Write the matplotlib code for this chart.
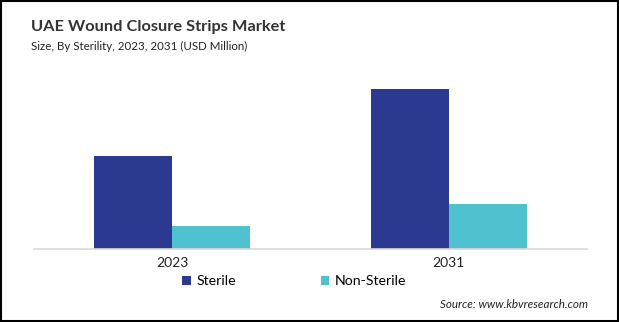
import matplotlib
matplotlib.use('Agg')
import matplotlib.pyplot as plt
import numpy as np
from matplotlib.patches import Rectangle

plt.rcParams['font.family'] = ['Lato', 'DejaVu Sans']

# data (USD Million)
years = ['2023', '2031']
series = ['Sterile', 'Non-Sterile']
sterile = [9.3, 16.0]
non_sterile = [2.3, 4.5]
colors = ['#2b3990', '#4fc1cf']

fig = plt.figure(figsize=(6.19, 3.22), dpi=100)
ax = fig.add_axes([34 / 619, 73 / 322, 553 / 619, 180 / 322])

x = np.arange(len(years))
w = 0.283
b1 = ax.bar(x - w / 2, sterile, width=w, color=colors[0], label=series[0])
b2 = ax.bar(x + w / 2, non_sterile, width=w, color=colors[1], label=series[1])

ax.set_xlim(-0.5, 1.5)
ax.set_ylim(0, 18)
ax.set_yticks([])
ax.set_xticks(x)
ax.set_xticklabels(years, fontsize=10, color='#222222')
ax.tick_params(axis='x', length=0, pad=6)
for s in ['top', 'right', 'left']:
    ax.spines[s].set_visible(False)
ax.spines['bottom'].set_color('#d9d9d9')
ax.spines['bottom'].set_linewidth(1.2)

fig.text(31 / 619, 1 - 27 / 322, 'UAE Wound Closure Strips Market', fontsize=11.8,
         fontweight='bold', color='#333333', va='center', ha='left')
fig.text(31 / 619, 1 - 46 / 322, 'Size, By Sterility, 2023, 2031 (USD Million)', fontsize=8.3,
         color='#222222', va='center', ha='left')

fig.legend(handles=[b1, b2], labels=series, loc='center left',
           bbox_to_anchor=(182 / 619, 1 - 281 / 322), ncol=2, frameon=False,
           fontsize=10.2, handlelength=0.6, handleheight=0.6, handletextpad=0.4,
           columnspacing=6.0, borderpad=0, borderaxespad=0)

fig.text(588 / 619, 1 - 304 / 322, 'Source: www.kbvresearch.com', fontsize=8.4,
         style='italic', color='#222222', ha='right', va='center')

# frame around the whole picture
fig.patches.append(Rectangle((0.001, 0.002), 0.997, 0.995, transform=fig.transFigure,
                             fill=False, edgecolor='black', linewidth=1.5))

fig.savefig('out.png', dpi=100, facecolor='white')
